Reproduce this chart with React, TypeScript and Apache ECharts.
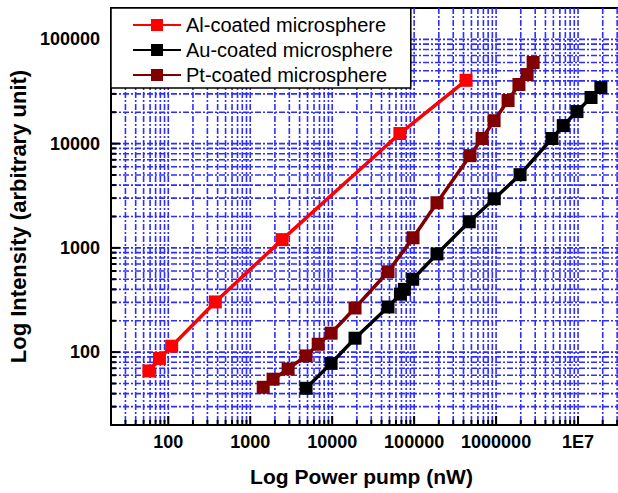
import React, { useEffect, useRef } from "react";
import * as echarts from "echarts";

// ---- data ----
const alPower = [58, 78, 110, 375, 2450, 67000, 430000];
const alIntensity = [66, 87, 114, 303, 1200, 12500, 40500];

const auPower = [4800, 9700, 19000, 48000, 68000, 76000, 96000, 190000, 470000, 950000, 1960000, 4800000, 6600000, 9700000, 14400000, 19000000];
const auIntensity = [45, 78, 136, 271, 360, 400, 500, 875, 1780, 2960, 5040, 11200, 14900, 20300, 27700, 34500];

const ptPower = [1440, 1900, 2900, 4800, 6750, 9700, 19000, 48000, 97000, 190000, 480000, 675000, 946000, 1400000, 1900000, 2390000, 2830000];
const ptIntensity = [46, 55, 69, 92, 119, 152, 265, 590, 1250, 2710, 7670, 11200, 16600, 25900, 36900, 46000, 60000];

const seriesNames = ["Al-coated microsphere", "Au-coated microsphere", "Pt-coated microsphere"];

// axis ranges and tick decades
const X_MIN = 20;
const X_MAX = 1e8;
const Y_MIN = 20;
const Y_MAX = 2e5;
const xDecades = [10, 100, 1000, 1e4, 1e5, 1e6, 1e7];
const yDecades = [10, 100, 1000, 1e4, 1e5];
const mantissas = [1, 2, 3, 4, 5, 6, 7, 8, 9];

const FONT = "Liberation Sans, Arial, sans-serif";
const GRID_COLOR = "#2e2eff";

function buildGridItems() {
  const items: number[][] = [];
  xDecades.forEach((d) => {
    mantissas.forEach((m) => {
      const v = d * m;
      if (v > X_MIN * 1.0001 && v < X_MAX * 0.9999) items.push([v, Y_MIN, 0, m === 1 ? 1 : 0]);
    });
  });
  yDecades.forEach((d) => {
    mantissas.forEach((m) => {
      const v = d * m;
      if (v > Y_MIN * 1.0001 && v < Y_MAX * 0.9999) items.push([X_MIN, v, 1, m === 1 ? 1 : 0]);
    });
  });
  return items;
}

function pairs(xs: number[], ys: number[]) {
  return xs.map((x, i) => [x, ys[i]]);
}

function labelFmt(v: number) {
  const e = Math.round(Math.log10(v));
  if (e >= 7) return "1E" + e;
  return String(Math.round(v));
}

export default function App() {
  const ref = useRef<HTMLDivElement>(null);
  useEffect(() => {
    if (!ref.current) return;
    const chart = echarts.init(ref.current, undefined, { renderer: "svg" });
    const lineSeries = (name: string, data: number[][], color: string) => ({
      name,
      type: "line",
      data,
      symbol: "rect",
      symbolSize: 13,
      lineStyle: { color, width: 3.5 },
      itemStyle: { color },
      z: 3,
    });
    chart.setOption({
      animation: false,
      backgroundColor: "#fff",
      grid: {
        left: 111,
        top: 8,
        width: 549,
        height: 417,
        show: true,
        borderColor: "#000",
        borderWidth: 2,
        backgroundColor: "transparent",
        outerBoundsMode: "none",
      },
      legend: {
        orient: "vertical",
        left: 111,
        top: 8,
        data: seriesNames,
        itemWidth: 48,
        itemHeight: 15,
        itemGap: 5,
        padding: [7, 18, 3, 21],
        backgroundColor: "#fff",
        borderColor: "#000",
        borderWidth: 1.5,
        textStyle: { fontSize: 20, fontFamily: FONT, color: "#000", lineHeight: 20 },
        selectedMode: false,
      },
      xAxis: {
        type: "log",
        logBase: 10,
        min: X_MIN,
        max: X_MAX,
        name: "Log Power pump (nW)",
        nameLocation: "middle",
        nameGap: 41,
        nameTextStyle: { fontSize: 21, fontWeight: "bold", fontFamily: FONT, color: "#000", padding: [0, 48, 0, 0] },
        axisLine: { show: false },
        axisTick: { show: false },
        splitLine: { show: false },
        axisLabel: {
          formatter: labelFmt,
          fontSize: 18,
          fontWeight: "bold",
          fontFamily: FONT,
          color: "#000",
          margin: 8,
          showMinLabel: false,
          showMaxLabel: false,
          interval: 0,
        },
      },
      yAxis: {
        type: "log",
        logBase: 10,
        min: Y_MIN,
        max: Y_MAX,
        name: "Log Intensity (arbitrary unit)",
        nameLocation: "middle",
        nameGap: 76,
        nameTextStyle: { fontSize: 22, fontWeight: "bold", fontFamily: FONT, color: "#000" },
        axisLine: { show: false },
        axisTick: { show: false },
        splitLine: { show: false },
        axisLabel: {
          formatter: labelFmt,
          fontSize: 18,
          fontWeight: "bold",
          fontFamily: FONT,
          color: "#000",
          margin: 11,
          showMinLabel: false,
          showMaxLabel: false,
        },
      },
      series: [
        {
          type: "custom",
          name: "grid",
          silent: true,
          z: 1,
          data: buildGridItems(),
          encode: { x: 0, y: 1 },
          renderItem: (params: any, api: any) => {
            const cs = params.coordSys;
            const kind = api.value(2);
            const major = api.value(3) === 1;
            const len = major ? 9 : 5;
            const dash = { stroke: GRID_COLOR, fill: null, lineWidth: 1.6, lineDash: [6, 2, 2, 2] };
            const tick = { stroke: "#000", fill: null, lineWidth: 2 };
            if (kind === 0) {
              const px = api.coord([api.value(0), Y_MIN])[0];
              const bottom = cs.y + cs.height;
              return {
                type: "group",
                children: [
                  { type: "line", shape: { x1: px, y1: cs.y, x2: px, y2: bottom }, style: dash },
                  { type: "line", shape: { x1: px, y1: bottom, x2: px, y2: bottom - len }, style: tick },
                ],
              };
            }
            const py = api.coord([X_MIN, api.value(1)])[1];
            return {
              type: "group",
              children: [
                { type: "line", shape: { x1: cs.x, y1: py, x2: cs.x + cs.width, y2: py }, style: dash },
                { type: "line", shape: { x1: cs.x, y1: py, x2: cs.x + len, y2: py }, style: tick },
              ],
            };
          },
        },
        lineSeries(seriesNames[0], pairs(alPower, alIntensity), "#ff0000"),
        lineSeries(seriesNames[1], pairs(auPower, auIntensity), "#000000"),
        lineSeries(seriesNames[2], pairs(ptPower, ptIntensity), "#800000"),
      ],
    });
    return () => chart.dispose();
  }, []);
  return (
    <div
      ref={ref}
      style={{ position: "absolute", left: 0, top: 0, width: 618, height: 493, background: "#fff" }}
    />
  );
}
